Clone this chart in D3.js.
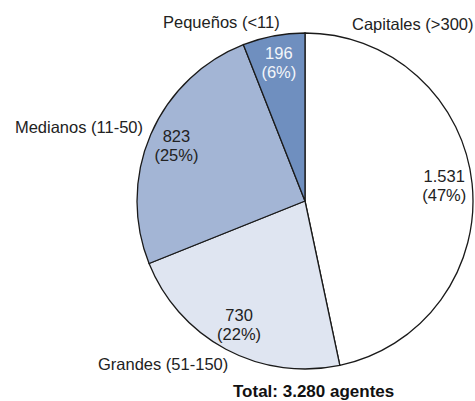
<!DOCTYPE html>
<html>
<head>
<meta charset="utf-8">
<script src="https://cdn.jsdelivr.net/npm/d3@7"></script>
<style>
  body { margin: 0; background: #fff; }
  text { font-family: "Liberation Sans", Arial, sans-serif; }
</style>
</head>
<body>
<div class="graph"></div>
<script>
// data
var categories = ['Capitales (>300)', 'Grandes (51-150)', 'Medianos (11-50)', 'Pequeños (<11)'];
var values = [1531, 730, 823, 196];
var totalLabel = 'Total: 3.280 agentes';

var colors = ['#ffffff', '#dfe5f1', '#a3b5d5', '#6f8fbf'];
var innerTextColors = ['#222', '#222', '#222', '#f4f6fa'];
// outer category label placement [x, y, anchor]
var outerPos = [
  [352, 30, 'start'],
  [98, 370, 'start'],
  [143, 133, 'end'],
  [163, 28, 'start']
];

var width = 475,
    height = 401,
    cx = 305,
    cy = 201,
    radius = 168;

var es = d3.formatLocale({decimal: ',', thousands: '.', grouping: [3], currency: ['', '€']});
var fmt = es.format(',d');
var total = d3.sum(values);

var svg = d3.select('.graph')
  .append('svg')
  .attr('width', width)
  .attr('height', height);

var pie = d3.pie()
  .sort(null)
  .value(function(d) { return d; });

var arc = d3.arc()
  .innerRadius(0)
  .outerRadius(radius);

var labelArc = d3.arc()
  .innerRadius(140)
  .outerRadius(140);

var g = svg.append('g')
  .attr('transform', 'translate(' + cx + ',' + cy + ')');

var slices = pie(values);

g.selectAll('path')
  .data(slices)
  .enter()
  .append('path')
  .attr('d', arc)
  .style('fill', function(d, i) { return colors[i]; })
  .style('stroke', '#1a1a1a')
  .style('stroke-width', 1.3);

var lbl = g.selectAll('.val')
  .data(slices)
  .enter()
  .append('text')
  .attr('class', 'val')
  .attr('text-anchor', 'middle')
  .attr('transform', function(d) { return 'translate(' + labelArc.centroid(d) + ')'; })
  .style('font-size', '16.5px')
  .style('fill', function(d, i) { return innerTextColors[i]; });

lbl.append('tspan')
  .attr('x', 0)
  .attr('y', -4)
  .text(function(d) { return fmt(d.value); });

lbl.append('tspan')
  .attr('x', 0)
  .attr('y', 15)
  .text(function(d) { return '(' + Math.round(d.value / total * 100) + '%)'; });

svg.selectAll('.cat')
  .data(categories)
  .enter()
  .append('text')
  .attr('class', 'cat')
  .attr('x', function(d, i) { return outerPos[i][0]; })
  .attr('y', function(d, i) { return outerPos[i][1]; })
  .attr('text-anchor', function(d, i) { return outerPos[i][2]; })
  .style('font-size', '16.5px')
  .style('fill', '#222')
  .text(function(d) { return d; });

svg.append('text')
  .text(totalLabel)
  .attr('x', 233)
  .attr('y', 397)
  .style('font-size', '17px')
  .style('font-weight', 'bold')
  .style('fill', '#111');
</script>
</body>
</html>
